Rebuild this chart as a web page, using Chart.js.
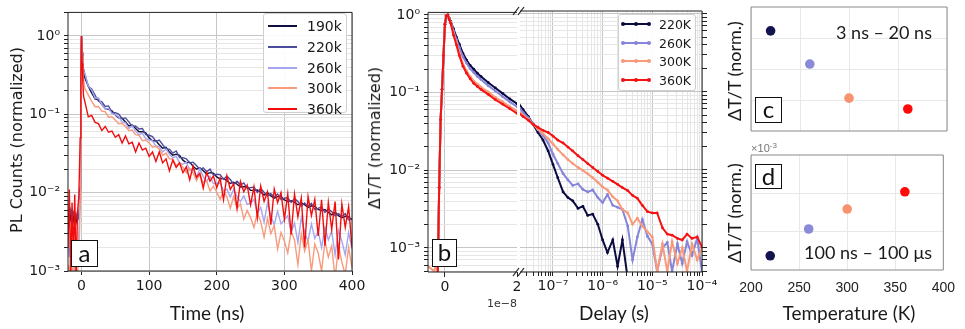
<!DOCTYPE html>
<html>
<head>
<meta charset="utf-8">
<script src="https://cdn.jsdelivr.net/npm/chart.js@4.4.0/dist/chart.umd.min.js"></script>
<style>
body{margin:0;background:#fff;}
#fig{position:relative;width:965px;height:329px;overflow:hidden;background:#fff;}
#fig canvas{position:absolute;left:0;top:0;}
.t{position:absolute;white-space:nowrap;color:#1a1a1a;transform:translate(-50%,-50%);line-height:1;}
.dv{font-family:'DejaVu Sans',sans-serif;}
.lt{font-family:Lato,sans-serif;}
.rot{transform:translate(-50%,-50%) rotate(-90deg);}
.pl{position:absolute;border:1.5px solid #111;background:#fff;font-family:Lato,sans-serif;font-size:24px;display:flex;align-items:center;justify-content:center;box-sizing:border-box;color:#111;padding-bottom:3px;}
.leg{position:absolute;background:rgba(255,255,255,0.9);border:1px solid #d0d0d0;border-radius:3px;box-sizing:border-box;font-family:'DejaVu Sans',sans-serif;color:#1a1a1a;}
.leg .row{position:absolute;left:0;height:0;}
.leg .ln{position:absolute;height:2px;top:-1px;}
.leg .dot{position:absolute;width:4px;height:4px;border-radius:2px;top:-2px;}
.leg .lb{position:absolute;top:0;transform:translateY(-50%);white-space:nowrap;}
</style>
</head>
<body>
<div id="fig">
  <canvas id="cA" width="965" height="329"></canvas>
  <canvas id="cB1" width="965" height="329"></canvas>
  <canvas id="cB2" width="965" height="329"></canvas>
  <canvas id="cC" width="965" height="329"></canvas>
  <canvas id="cD" width="965" height="329"></canvas>

  <div class="t dv rot" style="left:17px;top:140px;font-size:16px">PL Counts (normalized)</div>
  <div class="t lt" style="left:207px;top:312px;font-size:19px">Time (ns)</div>
  <div class="pl" style="left:71px;top:240px;width:27px;height:27px">a</div>
  <div class="leg" id="legA" style="left:263px;top:13px;width:84px;height:100px"></div>

  <div class="t dv rot" style="left:375px;top:138px;font-size:16px">ΔT/T (normalized)</div>
  <div class="t lt" style="left:614px;top:312px;font-size:19px">Delay (s)</div>
  <div class="t dv" style="left:502px;top:303px;font-size:11px;color:#333">1e−8</div>
  <div class="pl" style="left:432px;top:239px;width:25px;height:28px">b</div>
  <div class="leg" id="legB" style="left:618px;top:14px;width:78px;height:77px"></div>

  <div class="t lt rot" style="left:734px;top:71px;font-size:18px">ΔT/T (norm.)</div>
  <div class="t lt rot" style="left:734px;top:213px;font-size:18px">ΔT/T (norm.)</div>
  <div class="t lt" style="left:884px;top:32px;font-size:18px">3 ns – 20 ns</div>
  <div class="t lt" style="left:868px;top:252px;font-size:18px">100 ns – 100 μs</div>
  <div class="pl" style="left:755px;top:97px;width:27px;height:26px">c</div>
  <div class="pl" style="left:755px;top:164px;width:27px;height:25px">d</div>
  <div class="t" style="left:764px;top:148px;font-size:11px;color:#777;font-family:'Liberation Sans',sans-serif">×10<sup style="font-size:8px">-3</sup></div>
  <div class="t lt" style="left:849px;top:312px;font-size:19px">Temperature (K)</div>
</div>

<script>
// ---------- panel a : PL decays (time in ns) ----------
const timeA = [-20,-18,-16,-14,-12,-10,-8,-6,-4,-3,-2,-1,0,1,2,3,
  5,10,15,20,25,30,35,40,45,50,
  55,60,65,70,75,80,85,90,95,100,
  105,110,115,120,125,130,135,140,145,150,
  155,160,165,170,175,180,185,190,195,200,
  205,210,215,220,225,230,235,240,245,250,
  255,260,265,270,275,280,285,290,295,300,
  305,310,315,320,325,330,335,340,345,350,
  355,360,365,370,375,380,385,390,395,400];

const pl190 = [.0050,.0060,.0046,.0057,.0044,.0054,.0042,.0051,.0047,.0060,.011,.33,1.0,.60,.43,.36,
  .291,.229,.188,.157,.153,.134,.118,.116,.111,.098,
  .090,.089,.080,.071,.073,.066,.060,.060,.058,.050,
  .046,.046,.041,.037,.038,.033,.030,.031,.030,.026,
  .024,.0245,.0217,.0199,.0208,.019,.0173,.018,.0177,.0159,
  .0149,.0152,.0142,.0131,.0136,.0128,.0118,.0119,.0120,.0107,
  .0107,.0108,.0102,.0093,.0100,.0091,.0085,.0089,.0089,.0081,
  .0077,.0079,.0075,.0070,.0074,.0070,.0065,.0068,.0067,.0061,
  .0059,.0061,.0056,.0052,.0056,.0051,.0048,.0050,.0049,.0045];

const pl220 = [.0058,.0052,.0061,.0049,.0056,.0047,.0053,.0044,.0050,.0065,.012,.35,1.0,.62,.45,.37,
  .32,.228,.210,.176,.147,.145,.126,.128,.106,.105,
  .101,.088,.090,.080,.070,.071,.065,.066,.055,.054,
  .052,.045,.047,.041,.036,.036,.032,.034,.028,.028,
  .027,.024,.0245,.0222,.0197,.0207,.0185,.020,.0168,.0172,
  .0170,.0148,.0162,.0147,.0128,.0140,.0125,.0133,.0113,.0116,
  .0118,.0101,.0113,.0101,.0091,.0097,.0088,.0096,.0082,.0085,
  .0086,.0075,.0084,.0077,.0067,.0074,.0067,.0073,.0061,.0063,
  .0066,.0056,.0062,.0057,.0051,.0054,.0050,.0054,.0045,.0047];

const pl260 = [.0022,.0015,.0030,.0012,.0026,.0010,.0020,.0014,.0030,.0050,.010,.32,1.0,.60,.44,.36,
  .332,.230,.204,.162,.163,.134,.117,.119,.102,.099,
  .093,.080,.078,.066,.071,.061,.055,.057,.049,.047,
  .046,.039,.039,.033,.036,.031,.028,.029,.024,.023,
  .0246,.0192,.0203,.0157,.0202,.0159,.0140,.0162,.0130,.0132,
  .0132,.0106,.0111,.0088,.0110,.0089,.0077,.0091,.0071,.0073,
  .0082,.0055,.0065,.0042,.0073,.0050,.0039,.0058,.0040,.0045,
  .0051,.0031,.0041,.0023,.0048,.0031,.0024,.0040,.0026,.0032,
  .0020,.0036,.0025,.0032,.0016,.0033,.0024,.0016,.0031,.0019];

const pl300 = [.0012,.0009,.0015,.0008,.0013,.0007,.0011,.0009,.0016,.0030,.008,.28,1.0,.55,.36,.28,
  .210,.177,.146,.125,.126,.110,.108,.092,.093,.084,
  .076,.077,.070,.062,.063,.055,.054,.046,.047,.043,
  .038,.039,.036,.030,.032,.027,.027,.022,.024,.021,
  .0180,.0205,.0178,.0142,.0170,.0134,.0142,.0105,.0121,.0102,
  .0082,.0106,.0088,.0063,.0089,.0063,.0072,.0046,.0059,.0048,
  .0036,.0055,.0043,.0027,.0047,.0030,.0038,.0019,.0031,.0024,
  .0017,.0032,.0025,.0012,.0030,.0018,.0025,.0010,.0022,.0017,
  .0010,.0024,.0015,.0021,.0008,.0021,.0013,.0009,.0020,.0011];

const pl360 = [.0020,.011,.0009,.0075,.0014,.0095,.0008,.0055,.0090,.020,.050,.30,1.0,.45,.25,.17,
  .144,.093,.097,.079,.076,.062,.070,.059,.061,.051,
  .055,.043,.053,.042,.044,.033,.043,.035,.037,.029,
  .033,.025,.033,.024,.027,.019,.026,.021,.024,.018,
  .0214,.0146,.0218,.0156,.0177,.0114,.0182,.0140,.0164,.0116,
  .0154,.0081,.0164,.0110,.0130,.0063,.0139,.0103,.0125,.0070,
  .0118,.0048,.0121,.0077,.0102,.0039,.0111,.0075,.0100,.0046,
  .0096,.0029,.0096,.0049,.0085,.0020,.0089,.0051,.0082,.0028,
  .0081,.0021,.0075,.0034,.0077,.0014,.0072,.0036,.0066,.0020];

const labelsA = ['190k','220k','260k','300k','360k'];
const colorsA = ['#10103f','#4c4c9c','#a6a6ef','#f89a7c','#f20d0d'];

// ---------- panel b : transient transmission (delay in s) ----------
const delayB = [-5e-9,-3e-9,-2.5e-9,-2e-9,-1.6e-9,-1.2e-9,-8e-10,-4e-10,0,4e-10,8e-10,1.2e-9,1.6e-9,2.4e-9,3.2e-9,4e-9,5e-9,6e-9,7e-9,8e-9,9e-9,1e-8,1.2e-8,1.4e-8,1.6e-8,1.8e-8,2e-8,
  2.5e-8,3.2e-8,4e-8,5e-8,6.3e-8,8e-8,1e-7,1.25e-7,1.6e-7,2e-7,2.5e-7,3.2e-7,4e-7,5e-7,6.3e-7,8e-7,
  1e-6,1.25e-6,1.6e-6,2e-6,2.5e-6,3.2e-6,4e-6,5e-6,6.3e-6,8e-6,
  1e-5,1.25e-5,1.6e-5,2e-5,2.5e-5,3.2e-5,4e-5,5e-5,6.3e-5,8e-5,1e-4];

const dt220 = [.0004,.0004,.0004,.00045,.006,.045,.11,.30,.76,.98,1.0,.91,.83,.66,.52,.42,.32,.263,.224,.200,.178,.162,.135,.115,.098,.083,.072,
  .059,.048,.038,.030,.024,.0174,.0117,.0079,.0052,.0044,.0040,.0032,.0034,.0026,.0027,.0020,
  .00126,.00087,.00126,.00058,.00126,.0004,null,null,null,null,
  null,null,null,null,null,null,null,null,null,null,null];

const dt260 = [.0004,.0004,.0004,.00045,.006,.045,.11,.30,.76,.98,1.0,.90,.81,.62,.48,.38,.29,.24,.204,.182,.162,.148,.123,.105,.089,.076,.066,
  .054,.046,.039,.033,.0275,.022,.0158,.0120,.0089,.0074,.0063,.0066,.0056,.0052,.0055,.0044,
  .0038,.0048,.0035,.0033,.0031,.0019,.0007,.00138,.0023,.0014,
  .00112,.0005,.0010,.00117,.0005,.00112,.00063,.0012,.0008,.00132,.0005];

const dt300 = [.0006,.0005,.0006,.0005,.006,.045,.11,.30,.76,.98,1.0,.88,.80,.58,.44,.32,.235,.19,.162,.141,.129,.118,.102,.087,.076,.066,.058,
  .050,.044,.038,.033,.029,.025,.0214,.0182,.0155,.0135,.0120,.0107,.0098,.0089,.0079,.0069,
  .0060,.0055,.0045,.0040,.0031,.0028,.0020,.0024,.0019,.0016,
  .00138,.0005,.00112,.0005,.0012,.00063,.0010,.0005,.00112,.0007,.0010];

const dt360 = [.0004,.0004,.0004,.00045,.006,.045,.11,.30,.76,.98,1.0,.87,.78,.55,.41,.30,.219,.178,.151,.132,.120,.110,.095,.081,.071,.062,.054,
  .048,.043,.038,.035,.032,.030,.027,.024,.022,.0195,.0174,.0151,.0135,.0120,.0107,.0095,
  .0085,.0078,.0071,.0065,.0059,.0054,.0047,.0043,.0035,.0029,
  .0028,.0028,.0018,.0015,.00145,.00132,.00126,.0015,.00132,.00138,.00102];

const labelsB = ['220K','260K','300K','360K'];
const colorsB = ['#0b0b42','#8585da','#f89a7a','#f51212'];

// ---------- panels c, d : amplitudes vs temperature ----------
const tempK = [220,260,300,360];
const ampEarly = [3.23,2.16,1.06,0.71];   // 3 ns - 20 ns
const ampLate = [0.37,1.07,1.59,2.04];    // 100 ns - 100 us, x1e-3
const colorsCD = ['#13134f','#8a8ad8','#f8926f','#ff0a0a'];

// ---------- helpers ----------
const SUP = {'0':'⁰','1':'¹','2':'²','3':'³','4':'⁴','5':'⁵','6':'⁶','7':'⁷','8':'⁸','9':'⁹','-':'⁻'};
function isDecade(v){ const l = Math.log10(v); return Math.abs(l - Math.round(l)) < 1e-6; }
function pow10Label(v){
  if(!isDecade(v)) return '';
  return '10' + String(Math.round(Math.log10(v))).split('').map(c => SUP[c]).join('');
}
function logTicks(lo, hi){
  const out = [];
  for(let e = Math.floor(Math.log10(lo)); e <= Math.ceil(Math.log10(hi)); e++){
    for(let m = 1; m < 10; m++){
      const v = m * Math.pow(10, e);
      if(v >= lo * 0.999 && v <= hi * 1.001) out.push({value: v});
    }
  }
  return out;
}
const frame = {
  id: 'frame',
  afterDraw(chart, args, opts){
    const a = chart.chartArea, c = chart.ctx, s = opts.sides || 'tlbr';
    c.save();
    c.strokeStyle = opts.color || '#222';
    c.lineWidth = 1;
    c.beginPath();
    if(s.includes('t')){ c.moveTo(a.left, a.top); c.lineTo(a.right, a.top); }
    if(s.includes('b')){ c.moveTo(a.left, a.bottom); c.lineTo(a.right, a.bottom); }
    if(s.includes('l')){ c.moveTo(a.left, a.top); c.lineTo(a.left, a.bottom); }
    if(s.includes('r')){ c.moveTo(a.right, a.top); c.lineTo(a.right, a.bottom); }
    c.stroke();
    c.restore();
  }
};
const breakMarks = {
  id: 'breakMarks',
  afterDraw(chart){
    const a = chart.chartArea, c = chart.ctx;
    c.save();
    c.strokeStyle = '#222';
    c.lineWidth = 1.2;
    [a.top, a.bottom].forEach(y => {
      [a.left - 4, a.left + 1].forEach(x => {
        c.beginPath(); c.moveTo(x - 3, y + 4); c.lineTo(x + 3, y - 4); c.stroke();
      });
    });
    c.restore();
  }
};

Chart.defaults.font.family = "'DejaVu Sans', sans-serif";
Chart.defaults.color = '#1a1a1a';
const majGrid = '#c6c6c6', minGrid = '#e6e6e6';
const gridColorLog = c => (c.tick && isDecade(c.tick.value)) ? majGrid : minGrid;

// ---------- chart a ----------
const seriesA = [pl190, pl220, pl260, pl300, pl360];
new Chart(document.getElementById('cA'), {
  type: 'line',
  data: {
    datasets: seriesA.map((arr, i) => ({
      label: labelsA[i],
      data: timeA.map((t, j) => ({x: t, y: arr[j]})),
      borderColor: colorsA[i],
      borderWidth: 1.4,
      pointRadius: 0,
      order: 5 - i
    }))
  },
  options: {
    responsive: false, animation: false,
    layout: {padding: {left: 0, top: 7, right: 613, bottom: 0}},
    plugins: {legend: {display: false}, tooltip: {enabled: false}, frame: {color: '#222'}},
    scales: {
      x: {
        type: 'linear', min: -20, max: 400,
        afterBuildTicks: s => { s.ticks = [0,100,200,300,400].map(v => ({value: v})); },
        afterFit: s => { s.height = 58; },
        border: {display: false},
        grid: {color: majGrid, tickColor: '#222', tickLength: 4},
        ticks: {font: {size: 14}, maxRotation: 0, autoSkip: false, padding: 3}
      },
      y: {
        type: 'logarithmic', min: 1e-3, max: 2,
        afterBuildTicks: s => { s.ticks = logTicks(1e-3, 2); },
        afterFit: s => { s.width = 68; },
        border: {display: false},
        grid: {color: gridColorLog, tickColor: '#222', tickLength: 4},
        ticks: {font: {size: 14}, autoSkip: false, padding: 4, callback: v => pow10Label(v)}
      }
    }
  },
  plugins: [frame]
});

// ---------- chart b, linear part ----------
const seriesB = [dt220, dt260, dt300, dt360];
function datasetsB(keep){
  return seriesB.map((arr, i) => ({
    label: labelsB[i],
    data: delayB.map((t, j) => ({x: t, y: arr[j]})).filter(p => keep(p.x)),
    borderColor: colorsB[i],
    backgroundColor: colorsB[i],
    borderWidth: 2,
    pointRadius: 1.4,
    pointBorderWidth: 0,
    order: 4 - i
  }));
}
new Chart(document.getElementById('cB1'), {
  type: 'line',
  data: {datasets: datasetsB(x => x <= 2.6e-8)},
  options: {
    responsive: false, animation: false,
    layout: {padding: {left: 368, top: 11, right: 448, bottom: 0}},
    plugins: {legend: {display: false}, tooltip: {enabled: false}, frame: {color: '#222', sides: 'tlb'}},
    scales: {
      x: {
        type: 'linear', min: -4.7e-9, max: 2e-8,
        afterBuildTicks: s => { s.ticks = [0, 2e-8].map(v => ({value: v})); },
        afterFit: s => { s.height = 57; },
        border: {display: false},
        grid: {color: c => c.tick && c.tick.value === 0 ? majGrid : 'rgba(0,0,0,0)', tickColor: '#222', tickLength: 5},
        ticks: {font: {size: 14}, maxRotation: 0, autoSkip: false, padding: 2,
          callback: v => v === 0 ? '0' : String(Math.round(v / 1e-8))}
      },
      y: {
        type: 'logarithmic', min: 4.9e-4, max: 1.08,
        afterBuildTicks: s => { s.ticks = logTicks(4.9e-4, 1.08); },
        afterFit: s => { s.width = 60; },
        border: {display: false},
        grid: {color: gridColorLog, tickColor: '#222', tickLength: 4},
        ticks: {font: {size: 14}, autoSkip: false, padding: 4, callback: v => pow10Label(v)}
      }
    }
  },
  plugins: [frame]
});

// ---------- chart b, log part ----------
new Chart(document.getElementById('cB2'), {
  type: 'line',
  data: {datasets: datasetsB(x => x >= 1.9e-8)},
  options: {
    responsive: false, animation: false,
    layout: {padding: {left: 520, top: 11, right: 257, bottom: 0}},
    plugins: {legend: {display: false}, tooltip: {enabled: false}, frame: {color: '#222', sides: 'trb'}},
    scales: {
      x: {
        type: 'logarithmic', min: 2.17e-8, max: 1e-4,
        afterBuildTicks: s => { s.ticks = logTicks(2.17e-8, 1e-4); },
        afterFit: s => { s.height = 57; },
        border: {display: false},
        grid: {color: gridColorLog, tickColor: '#222', tickLength: 4},
        ticks: {font: {size: 14}, maxRotation: 0, autoSkip: false, padding: 2, callback: v => pow10Label(v)}
      },
      y: {
        type: 'logarithmic', position: 'right', min: 4.9e-4, max: 1.08,
        afterBuildTicks: s => { s.ticks = logTicks(4.9e-4, 1.08); },
        afterFit: s => { s.width = 6; },
        border: {display: false},
        grid: {color: gridColorLog, tickColor: '#222', tickLength: 5},
        ticks: {display: false, autoSkip: false}
      }
    }
  },
  plugins: [frame, breakMarks]
});

// ---------- charts c and d ----------
function tempChart(id, values, yMax, pad, showX){
  return new Chart(document.getElementById(id), {
    type: 'scatter',
    data: {datasets: [{
      data: tempK.map((t, j) => ({x: t, y: values[j]})),
      pointRadius: 4.8,
      pointBorderWidth: 0,
      pointBackgroundColor: colorsCD
    }]},
    options: {
      responsive: false, animation: false,
      layout: {padding: pad},
      plugins: {legend: {display: false}, tooltip: {enabled: false}, frame: {color: '#8a8a8a'}},
      scales: {
        x: {
          type: 'linear', min: 200, max: 400,
          afterBuildTicks: s => { s.ticks = [200,250,300,350,400].map(v => ({value: v})); },
          afterFit: s => { s.height = showX ? 59 : 0; },
          border: {display: false},
          grid: {color: '#e8e8e8', drawTicks: false},
          ticks: {display: showX, font: {family: "'Liberation Sans', sans-serif", size: 14}, color: '#222',
            maxRotation: 0, autoSkip: false, padding: 10}
        },
        y: {
          type: 'linear', min: 0, max: yMax,
          afterBuildTicks: s => { const t = []; for(let v = 1; v < yMax; v++) t.push({value: v}); s.ticks = t; },
          afterFit: s => { s.width = 0; },
          border: {display: false},
          grid: {color: '#e8e8e8', drawTicks: false},
          ticks: {display: false}
        }
      }
    },
    plugins: [frame]
  });
}
tempChart('cC', ampEarly, 4, {left: 751, top: 7, right: 18, bottom: 198}, false);
tempChart('cD', ampLate, 3, {left: 751, top: 155, right: 18, bottom: 0}, true);

// ---------- html legends ----------
const legA = document.getElementById('legA');
labelsA.forEach((lab, i) => {
  const row = document.createElement('div');
  row.className = 'row';
  row.style.top = (12 + i * 20.75) + 'px';
  row.innerHTML = '<span class="ln" style="left:4px;width:29px;background:' + colorsA[i] + '"></span>' +
    '<span class="lb" style="left:43px;font-size:14px">' + lab + '</span>';
  legA.appendChild(row);
});
const legB = document.getElementById('legB');
labelsB.forEach((lab, i) => {
  const row = document.createElement('div');
  row.className = 'row';
  row.style.top = (9 + i * 18.7) + 'px';
  row.innerHTML = '<span class="ln" style="left:4px;width:26px;background:' + colorsB[i] + '"></span>' +
    '<span class="dot" style="left:2px;background:' + colorsB[i] + '"></span>' +
    '<span class="dot" style="left:15px;background:' + colorsB[i] + '"></span>' +
    '<span class="dot" style="left:28px;background:' + colorsB[i] + '"></span>' +
    '<span class="lb" style="left:40px;font-size:12.5px">' + lab + '</span>';
  legB.appendChild(row);
});
</script>
</body>
</html>
